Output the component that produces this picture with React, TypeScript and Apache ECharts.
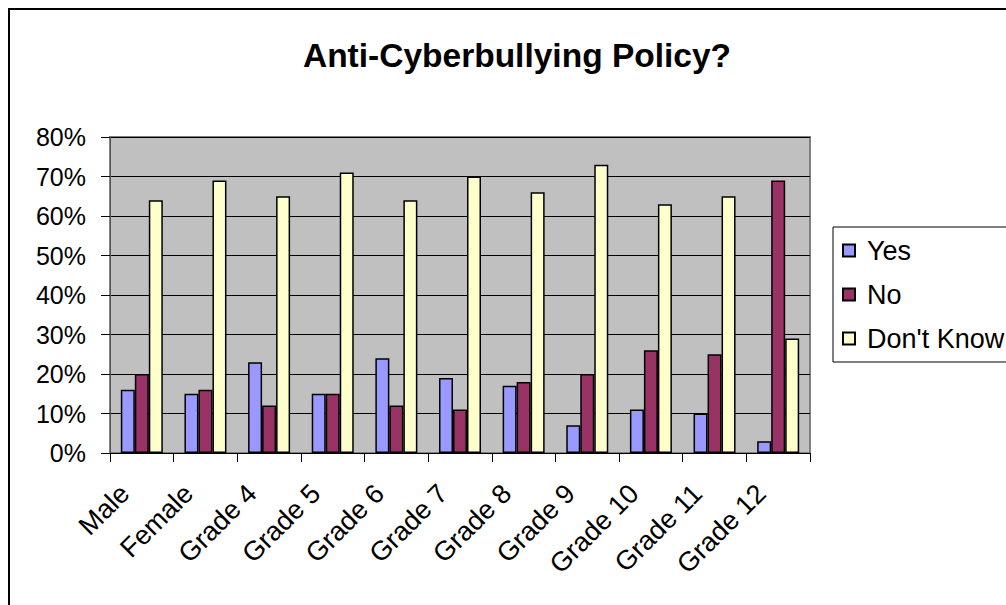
import React, { useEffect, useRef } from "react";
import * as echarts from "echarts";

const categories = ["Male", "Female", "Grade 4", "Grade 5", "Grade 6", "Grade 7", "Grade 8", "Grade 9", "Grade 10", "Grade 11", "Grade 12"];
const yesValues = [16, 15, 23, 15, 24, 19, 17, 7, 11, 10, 3];
const noValues = [20, 16, 12, 15, 12, 11, 18, 20, 26, 25, 69];
const dontKnowValues = [64, 69, 65, 71, 64, 70, 66, 73, 63, 65, 29];
const seriesNames = ["Yes", "No", "Don't Know"];
const seriesColors = ["#9999FF", "#993366", "#FFFFCC"];

const FONT = "'Liberation Sans', Arial, sans-serif";

export default function App() {
  const ref = useRef<HTMLDivElement>(null);
  useEffect(() => {
    if (!ref.current) return;
    const chart = echarts.init(ref.current, undefined, { renderer: "svg" });
    const data = [yesValues, noValues, dontKnowValues];
    chart.setOption({
      animation: false,
      backgroundColor: "#ffffff",
      textStyle: { fontFamily: FONT },
      title: {
        text: "Anti-Cyberbullying Policy?",
        left: 512,
        top: 33,
        textAlign: "center",
        textStyle: { fontFamily: FONT, fontSize: 33.5, fontWeight: "bold", color: "#000" },
      },
      graphic: [
        {
          type: "rect",
          shape: { x: 9, y: 9, width: 1100, height: 700 },
          style: { fill: "none", stroke: "#000", lineWidth: 2 },
          silent: true,
        },
      ],
      legend: {
        orient: "vertical",
        left: 833,
        top: 227,
        padding: [10, 10, 10, 9],
        itemGap: 17,
        itemWidth: 12,
        itemHeight: 12,
        icon: "rect",
        borderColor: "#000",
        borderWidth: 1,
        textStyle: { fontFamily: FONT, fontSize: 27, color: "#000", padding: [0, 0, 0, 7] },
        data: seriesNames,
      },
      grid: {
        left: 110,
        right: 196,
        top: 137,
        bottom: 152,
        show: true,
        backgroundColor: "#c0c0c0",
        borderColor: "#808080",
        borderWidth: 2,
        containLabel: false,
      },
      xAxis: {
        type: "category",
        data: categories,
        axisLine: { show: true, lineStyle: { color: "#000", width: 1 } },
        axisTick: { show: true, length: 9, lineStyle: { color: "#000" } },
        axisLabel: {
          rotate: 45,
          margin: 19,
          padding: [0, 24, 0, 0],
          fontFamily: FONT,
          fontSize: 27,
          color: "#000",
          interval: 0,
        },
      },
      yAxis: {
        type: "value",
        min: 0,
        max: 80,
        interval: 10,
        axisLine: { show: true, lineStyle: { color: "#555", width: 1 } },
        axisTick: { show: true, length: 9, lineStyle: { color: "#000" } },
        axisLabel: {
          formatter: "{value}%",
          margin: 24,
          fontFamily: FONT,
          fontSize: 25,
          color: "#000",
        },
        splitLine: { show: true, lineStyle: { color: "#000", width: 1 } },
      },
      series: seriesNames.map((name, i) => ({
        name,
        type: "bar",
        data: data[i],
        barGap: "0%",
        barCategoryGap: "34%",
        itemStyle: { color: seriesColors[i], borderColor: "#000", borderWidth: 1.5 },
      })),
    });
    return () => chart.dispose();
  }, []);
  return (
    <div
      ref={ref}
      style={{ position: "absolute", left: 0, top: 0, width: 1006, height: 605 }}
    />
  );
}
